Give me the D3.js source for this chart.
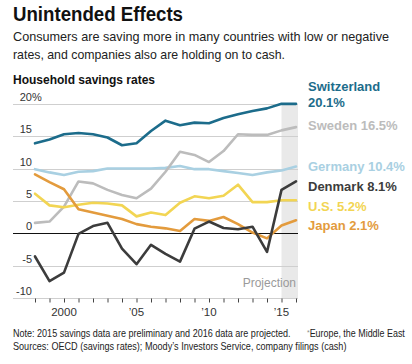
<!DOCTYPE html>
<html><head><meta charset="utf-8">
<script src="https://cdn.jsdelivr.net/npm/d3@7"></script>
<style>
html,body{margin:0;padding:0;background:#fff;}
svg{display:block;font-family:"Liberation Sans",Arial,sans-serif;}
</style></head>
<body>
<svg id="c" width="412" height="364"></svg>
<script>
const years = [1998,1999,2000,2001,2002,2003,2004,2005,2006,2007,2008,2009,2010,2011,2012,2013,2014,2015,2016];
const switzerland = [14.0,14.6,15.4,15.6,15.4,14.9,13.7,14.0,15.9,17.5,16.8,17.2,17.1,17.9,18.5,19.0,19.4,20.1,20.1];
const sweden = [1.7,1.9,4.2,8.1,7.8,6.8,6.0,5.5,7.0,9.6,12.7,12.2,11.1,12.8,15.4,15.3,15.3,16.0,16.5];
const germany = [10.0,9.5,9.1,9.6,9.7,10.1,10.1,10.1,10.1,10.2,10.5,10.0,10.0,9.7,9.4,9.1,9.5,9.8,10.4];
const denmark = [-3.5,-7.3,-6.0,0.0,1.2,1.7,-2.3,-4.7,-1.7,-3.1,-4.3,0.8,1.9,0.9,0.7,1.1,-2.8,6.8,8.1];
const us = [6.2,4.4,4.1,4.5,4.8,4.7,4.4,2.7,3.3,2.9,4.8,5.8,5.5,5.9,7.6,4.9,4.9,5.2,5.2];
const japan = [9.2,8.0,6.9,3.8,3.3,2.8,2.3,1.5,1.1,0.85,0.45,2.3,2.0,2.6,1.5,0.2,-0.7,1.3,2.1];
const seriesNames = ["Germany","Sweden","U.S.","Japan","Switzerland","Denmark"];
const seriesValues = [germany,sweden,us,japan,switzerland,denmark];
const seriesColors = ["#a9d0e2","#bcbcbc","#f2d553","#e39b3d","#1c6c8b","#3c3c3c"];
const labelTexts = {"Switzerland":["Switzerland","20.1%"],"Sweden":["Sweden 16.5%"],"Germany":["Germany 10.4%"],"Denmark":["Denmark 8.1%"],"U.S.":["U.S. 5.2%"],"Japan":["Japan 2.1%"]};
const yTicks = [20,15,10,5,0,-5,-10];
const xTickLabels = [[2000,"2000"],[2005,"\u201905"],[2010,"\u201910"],[2015,"\u201915"]];
const projectionStart = 2015;

const svg = d3.select("#c");
const x = d3.scaleLinear().domain([1998,2016]).range([35,296]);
const y = d3.scaleLinear().domain([-10,20]).range([298.5,104.5]);

function fitText(sel, w){ sel.attr("textLength", w).attr("lengthAdjust","spacingAndGlyphs"); }
// horizontally scaled text (emulates a condensed face)
function scaledText(x0, y0, size, str, w, fill){
  const g = svg.append("g");
  const t = g.append("text").attr("font-size",size).attr("fill",fill||"#222").text(str);
  const n = t.node().getComputedTextLength();
  g.attr("transform",`translate(${x0},${y0}) scale(${w/n},1)`);
  return t;
}

// Titles
svg.append("text").attr("x",13).attr("y",21).attr("font-size",19.5).attr("font-weight","bold").attr("fill","#111")
  .text("Unintended Effects").call(fitText,170);
svg.append("text").attr("x",13).attr("y",41).attr("font-size",13).attr("fill","#222")
  .text("Consumers are saving more in many countries with low or negative").call(fitText,376);
svg.append("text").attr("x",13).attr("y",59).attr("font-size",13).attr("fill","#222")
  .text("rates, and companies also are holding on to cash.").call(fitText,272);
svg.append("text").attr("x",13).attr("y",84).attr("font-size",12).attr("font-weight","bold").attr("fill","#111")
  .text("Household savings rates").call(fitText,142);

// projection shade
svg.append("rect").attr("x",x(projectionStart)).attr("y",y(20)).attr("width",x(2016)-x(projectionStart)+2)
  .attr("height",y(-10)-y(20)).attr("fill","#e9e9e9");

// gridlines
svg.append("g").selectAll("line").data(yTicks).join("line")
  .attr("x1",13).attr("x2",298).attr("y1",d=>y(d)).attr("y2",d=>y(d))
  .attr("stroke",d=>d===0?"#111":"#cfcfcf").attr("stroke-width",1).attr("shape-rendering","crispEdges");
// y labels
const yl = svg.append("g").attr("font-size",11).attr("fill","#333");
yl.selectAll("text").data(yTicks).join("text").attr("x",32).attr("y",d=>y(d)-3.5).attr("text-anchor","end").text(d=>d);
yl.append("text").attr("x",32).attr("y",y(20)-3.5).text("%");

svg.append("text").attr("x",296).attr("y",287).attr("text-anchor","end").attr("font-size",12).attr("fill","#9a9a9a").text("Projection");

// x axis ticks
const xa = d3.axisBottom(x).tickValues(years).tickSize(4).tickFormat("");
const gx = svg.append("g").attr("transform",`translate(0,${y(-10)})`).call(xa);
gx.select(".domain").remove();
gx.selectAll(".tick line").attr("stroke","#444");
svg.append("g").attr("font-size",11.5).attr("fill","#333").selectAll("text").data(xTickLabels).join("text")
  .attr("x",d=>x(d[0])).attr("y",315.5).attr("text-anchor","middle").text(d=>d[1]);

// lines
const line = d3.line().x((d,i)=>x(years[i])).y(d=>y(d)).curve(d3.curveLinear);
seriesValues.forEach((vals,k)=>{
  svg.append("path").datum(vals).attr("d",line).attr("fill","none").attr("stroke",seriesColors[k])
    .attr("stroke-width",2.6).attr("stroke-linejoin","round").attr("stroke-linecap","round");
});

// labels
const labelPos = {"Switzerland":[91,107],"Sweden":[130],"Germany":[170.5],"Denmark":[190.5],"U.S.":[210.5],"Japan":[229.5]};
seriesNames.forEach((n,k)=>{
  labelTexts[n].forEach((t,j)=>{
    svg.append("text").attr("x",308).attr("y",labelPos[n][j]).attr("font-size",13).attr("font-weight","bold")
      .attr("fill",seriesColors[k]).text(t);
  });
});

// footer
scaledText(13,336.5,10.5,"Note: 2015 savings data are preliminary and 2016 data are projected.",278);
const eu = scaledText(307,336.5,10.5,"",98);
eu.append("tspan").attr("fill","#888").attr("font-size",8).attr("dy",-2).text("*");
eu.append("tspan").attr("dy",2).text("Europe, the Middle East");
{ const n = eu.node().getComputedTextLength(); eu.node().parentNode.setAttribute("transform",`translate(307,336.5) scale(${98/n},1)`); }
scaledText(13,349.5,10.5,"Sources: OECD (savings rates); Moody\u2019s Investors Service, company filings (cash)",334);
</script>
</body></html>
